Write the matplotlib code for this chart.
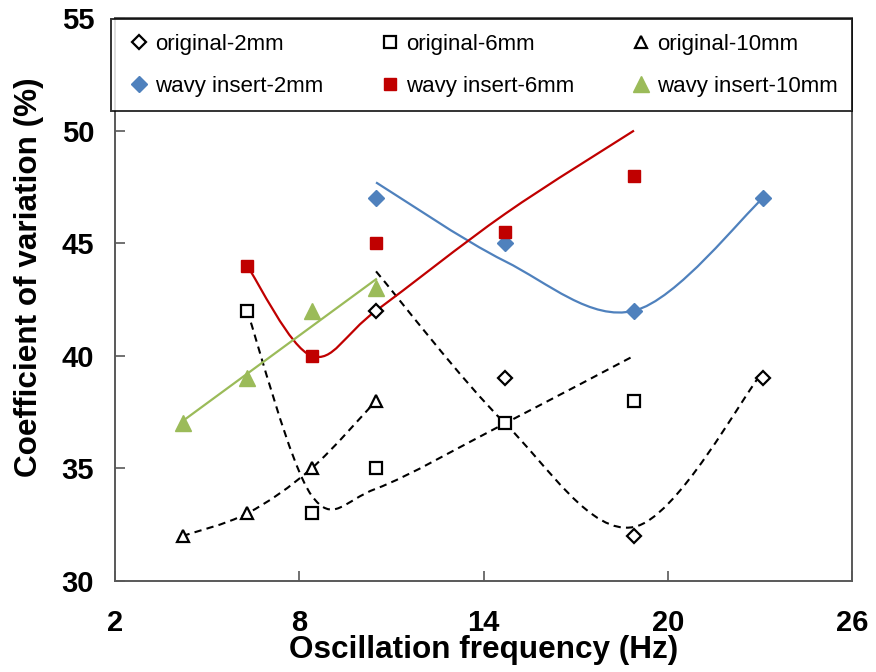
import numpy as np
import matplotlib
matplotlib.use("Agg")
import matplotlib.pyplot as plt
from matplotlib.path import Path
from matplotlib.patches import PathPatch

plt.rcParams['font.family'] = ['Liberation Sans', 'DejaVu Sans']

# measured data (frequency in Hz, coefficient of variation in %)
freq_o2 = [10.5, 14.7, 18.9, 23.1]
cv_o2 = [42, 39, 32, 39]
freq_o6 = [6.3, 8.4, 10.5, 14.7, 18.9]
cv_o6 = [42, 33, 35, 37, 38]
freq_o10 = [4.2, 6.3, 8.4, 10.5]
cv_o10 = [32, 33, 35, 38]
freq_w2 = [10.5, 14.7, 18.9, 23.1]
cv_w2 = [47, 45, 42, 47]
freq_w6 = [6.3, 8.4, 10.5, 14.7, 18.9]
cv_w6 = [44, 40, 45, 45.5, 48]
freq_w10 = [4.2, 6.3, 8.4, 10.5]
cv_w10 = [37, 39, 42, 43]

# fitted curves (smooth lines)
fit_o2 = [43.75, 37.0, 32.4, 39.3]
fit_o6 = [42.0, 33.8, 34.1, 37.0, 40.0]
fit_w2 = [47.7, 44.2, 42.0, 47.0]
fit_w6 = [44.0, 40.0, 42.0, 46.3, 50.0]

BLUE = '#4F81BD'
RED = '#C00000'
GREEN = '#9BBB59'


def smooth(ax, xs, ys, **kw):
    # excel-like smoothed line through the points, drawn as bezier path
    pts = np.column_stack([xs, ys]).astype(float)
    n = len(pts)
    verts = [pts[0]]
    codes = [Path.MOVETO]
    for i in range(n - 1):
        p0 = pts[i - 1] if i > 0 else pts[i]
        p1 = pts[i]
        p2 = pts[i + 1]
        p3 = pts[i + 2] if i + 2 < n else pts[i + 1]
        verts += [p1 + (p2 - p0) / 6, p2 - (p3 - p1) / 6, p2]
        codes += [Path.CURVE4] * 3
    patch = PathPatch(Path(verts, codes), fill=False, **kw)
    ax.add_patch(patch)


fig = plt.figure(figsize=(8.76, 6.72), dpi=100)
ax = fig.add_axes([0.1313, 0.1354, 0.8413, 0.8378])

dash = (0, (3.5, 2.5))
smooth(ax, freq_o2, fit_o2, color='black', lw=1.5, linestyle=dash)
smooth(ax, freq_o6, fit_o6, color='black', lw=1.5, linestyle=dash)
smooth(ax, freq_o10, cv_o10, color='black', lw=1.5, linestyle=dash)
smooth(ax, freq_w2, fit_w2, color=BLUE, lw=1.6)
smooth(ax, freq_w6, fit_w6, color=RED, lw=1.6)
k, b = np.polyfit(freq_w10, cv_w10, 1)
ax.plot([freq_w10[0], freq_w10[-1]], [k * freq_w10[0] + b, k * freq_w10[-1] + b],
        color=GREEN, lw=1.6)

o2, = ax.plot(freq_o2, cv_o2, 'D', ms=7, mfc='white', mec='black', mew=1.6,
              ls='none', label='original-2mm')
o6, = ax.plot(freq_o6, cv_o6, 's', ms=8, mfc='white', mec='black', mew=1.6,
              ls='none', label='original-6mm')
o10, = ax.plot(freq_o10, cv_o10, '^', ms=9, mfc='white', mec='black', mew=1.6,
               ls='none', label='original-10mm')
w2, = ax.plot(freq_w2, cv_w2, 'D', ms=8, color=BLUE, ls='none',
              label='wavy insert-2mm')
w6, = ax.plot(freq_w6, cv_w6, 's', ms=9, color=RED, ls='none',
              label='wavy insert-6mm')
w10, = ax.plot(freq_w10, cv_w10, '^', ms=11, color=GREEN, ls='none',
               label='wavy insert-10mm')

ax.set_xlim(2, 26)
ax.set_ylim(30, 55)
ax.set_xticks([2, 8, 14, 20, 26])
ax.set_yticks([30, 35, 40, 45, 50, 55])
ax.tick_params(direction='in', length=7, width=1.2, color='#595959',
               labelsize=21, top=False, right=False)
ax.tick_params(axis='x', pad=20)
ax.tick_params(axis='y', pad=15)
for lab in ax.get_xticklabels() + ax.get_yticklabels():
    lab.set_fontweight('bold')
for s in ax.spines.values():
    s.set_color('#595959')
    s.set_linewidth(1.4)

ax.set_xlabel('Oscillation frequency (Hz)', fontsize=22.7, fontweight='bold')
ax.set_ylabel('Coefficient of variation (%)', fontsize=22.7, fontweight='bold')
ax.xaxis.set_label_coords(0.5, -0.096)
ax.yaxis.set_label_coords(-0.097, 0.54)

leg = ax.legend([o2, w2, o6, w6, o10, w10],
                [h.get_label() for h in [o2, w2, o6, w6, o10, w10]],
                ncol=3, mode='expand', loc='upper left',
                bbox_to_anchor=(-0.005, 0.842, 1.005, 0.156),
                fontsize=16, frameon=True, fancybox=False, borderpad=0.65,
                labelspacing=0.95, handlelength=1.2, handletextpad=0.1,
                borderaxespad=0, columnspacing=1.0)
leg.get_frame().set_edgecolor('black')
leg.get_frame().set_linewidth(1.4)
leg.set_zorder(5)

fig.savefig('out.png', dpi=100)
